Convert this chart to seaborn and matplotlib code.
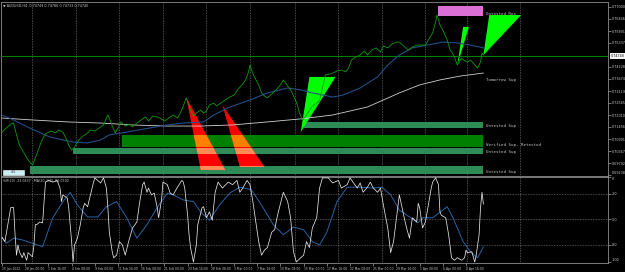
import matplotlib
matplotlib.use("Agg")
import matplotlib.pyplot as plt
from matplotlib.patches import Rectangle, Polygon
from matplotlib.transforms import blended_transform_factory
import pandas as pd
import seaborn as sns

# ---- price panel (AUDUSD H4), bar index vs price ----
PRICE_BARS = [0, 3, 6, 8, 10, 12, 14, 16, 18, 21, 23, 25, 27, 29, 31, 34, 37, 39, 42, 44,
              46, 48, 50, 53, 56, 59, 61, 64, 68, 70, 73, 75, 78, 80, 82, 85, 88, 90, 93, 96,
              99, 101, 104, 107, 110, 112, 115, 118, 121, 123, 125, 127, 130, 132, 134, 137, 139, 141, 143, 146,
              148, 152, 154, 157, 160, 162, 164, 166, 168, 170, 171, 172, 174, 177, 179, 181, 183, 186, 189, 192,
              194, 196, 199, 201, 203, 205, 207, 209, 211, 213, 215, 217, 219, 221, 223, 226, 228, 231, 234, 237,
              239, 241, 244, 247, 250, 252, 255, 258, 261, 263, 266, 269, 272, 274, 277, 280, 283, 286, 288, 292,
              294, 297, 299, 300, 302, 304, 307, 309, 311, 312, 314, 316, 317, 319, 321, 323, 325, 328, 330, 331, 332]
PRICE = [0.7122, 0.7141, 0.7159, 0.7164, 0.7109, 0.7062, 0.7039, 0.7016, 0.6993, 0.6970,
         0.7002, 0.7039, 0.7076, 0.7104, 0.7118, 0.7127, 0.7118, 0.7132, 0.7122, 0.7095,
         0.7062, 0.7039, 0.7053, 0.7086, 0.7104, 0.7118, 0.7132, 0.7127, 0.7146, 0.7155,
         0.7201, 0.7169, 0.7118, 0.7141, 0.7169, 0.7150, 0.7159, 0.7146, 0.7164, 0.7178,
         0.7192, 0.7173, 0.7196, 0.7192, 0.7183, 0.7173, 0.7187, 0.7201, 0.7187, 0.7210,
         0.7243, 0.7280, 0.7224, 0.7196, 0.7210, 0.7224, 0.7210, 0.7220, 0.7247, 0.7256,
         0.7243, 0.7261, 0.7270, 0.7284, 0.7293, 0.7312, 0.7330, 0.7344, 0.7363, 0.7400,
         0.7432, 0.7409, 0.7377, 0.7340, 0.7303, 0.7289, 0.7280, 0.7298, 0.7317, 0.7340,
         0.7363, 0.7344, 0.7317, 0.7289, 0.7261, 0.7215, 0.7178, 0.7192, 0.7210, 0.7233,
         0.7247, 0.7256, 0.7270, 0.7326, 0.7386, 0.7390, 0.7395, 0.7404, 0.7409, 0.7400,
         0.7418, 0.7455, 0.7469, 0.7478, 0.7497, 0.7478, 0.7501, 0.7511, 0.7492, 0.7520,
         0.7511, 0.7529, 0.7538, 0.7538, 0.7520, 0.7501, 0.7515, 0.7524, 0.7524, 0.7524,
         0.7548, 0.7580, 0.7631, 0.7663, 0.7617, 0.7594, 0.7548, 0.7501, 0.7483, 0.7469,
         0.7432, 0.7455, 0.7464, 0.7451, 0.7446, 0.7455, 0.7441, 0.7418, 0.7446, 0.7487, 0.7478]

MA_FAST_BARS = [0, 8, 19, 33, 49, 59, 68, 74, 86, 102, 114, 125, 139, 146, 157, 171,
                183, 197, 206, 214, 228, 235, 247, 259, 266, 274, 283, 293, 304, 314, 323, 332]
MA_FAST = [0.7201, 0.7178, 0.7141, 0.7099, 0.7076, 0.7072, 0.7086, 0.7109, 0.7122, 0.7141,
           0.7155, 0.7164, 0.7169, 0.7201, 0.7238, 0.7270, 0.7303, 0.7326, 0.7317, 0.7303,
           0.7284, 0.7293, 0.7326, 0.7377, 0.7432, 0.7478, 0.7511, 0.7524, 0.7538, 0.7534,
           0.7524, 0.7511]

MA_SLOW_BARS = [0, 21, 45, 68, 90, 114, 137, 159, 183, 206, 228, 252, 274, 288, 302, 316, 332]
MA_SLOW = [0.7187, 0.7178, 0.7169, 0.7164, 0.7155, 0.7150, 0.7150, 0.7155, 0.7169, 0.7183,
           0.7201, 0.7238, 0.7303, 0.7340, 0.7363, 0.7381, 0.7395]

CURRENT_PRICE = 0.7474
PRICE_TICKS = [0.77000, 0.76446, 0.75891, 0.75337, 0.74228, 0.73674, 0.73119,
               0.72565, 0.72010, 0.71456, 0.70901, 0.70347, 0.69792, 0.69238]

# supply / demand zones
ZONE_LABELS = ["Untested Res", "Untested Sup", "Verified Sup, Retested", "Untested Sup", "Untested Sup"]
ZONE_KIND = ["res", "sup", "verified", "sup", "sup"]
ZONE_START = [301, 208, 83, 49, 19]
ZONE_END = 332
ZONE_LOW = [0.76584, 0.71410, 0.70532, 0.70209, 0.69285]
ZONE_HIGH = [0.77046, 0.71687, 0.71086, 0.70486, 0.69654]
TOMORROW_SUP = 0.7363

# pattern triangles (bar, price) for each vertex
RED_TRI_BARS = [(127, 137, 154), (152, 164, 181)]
RED_TRI_PRICES = [(0.7284, 0.6947, 0.6947), (0.7247, 0.6961, 0.6961)]
GREEN_TRI_BARS = [(206, 212, 230), (314, 318, 322), (332, 336, 358)]
GREEN_TRI_PRICES = [(0.7122, 0.7377, 0.7377), (0.7432, 0.7608, 0.7608), (0.7478, 0.7663, 0.7663)]

# ---- Williams %R panel ----
WPR_BARS = [0, 2, 4, 6, 8, 9, 10, 11, 12, 14,
            15, 17, 18, 21, 22, 23, 24, 26, 28, 29,
            30, 32, 35, 38, 40, 41, 42, 45, 46, 47,
            48, 49, 50, 52, 54, 56, 57, 59, 61, 63,
            64, 66, 68, 70, 72, 73, 74, 76, 77, 79,
            81, 83, 85, 87, 88, 90, 93, 95, 97, 98,
            100, 101, 103, 105, 107, 108, 110, 111, 114, 116,
            118, 121, 124, 125, 126, 128, 129, 130, 132, 134,
            135, 138, 139, 141, 143, 145, 147, 149, 152, 156,
            159, 162, 164, 166, 169, 171, 173, 177, 179, 181,
            183, 186, 188, 190, 194, 197, 199, 201, 203, 206,
            208, 210, 212, 214, 217, 219, 221, 225, 228, 232,
            234, 238, 240, 242, 245, 247, 249, 252, 254, 256,
            259, 261, 263, 266, 268, 270, 272, 274, 277, 279,
            281, 283, 286, 287, 288, 290, 292, 294, 296, 297,
            299, 301, 302, 303, 306, 308, 310, 312, 314, 317,
            319, 320, 321, 324, 326, 327, 329, 330, 331, 332]
WPR = [-71, -76, -56, -36, -36, -68, -92, -80, -88, -95,
       -89, -98, -89, -94, -80, -56, -56, -53, -54, -29,
       -6, -4, -6, -4, -13, -29, -21, -25, -36, -56,
       -76, -100, -80, -72, -56, -36, -31, -35, -21, -7,
       -1, -4, -7, -1, -13, -36, -65, -88, -95, -92,
       -76, -80, -92, -78, -72, -60, -53, -29, -9, -6,
       -18, -13, -21, -19, -36, -48, -27, -6, -9, -19,
       -21, -12, -4, -6, -13, -45, -68, -83, -100, -80,
       -56, -36, -35, -48, -41, -51, -18, -6, -13, -6,
       -9, -4, -18, -13, -4, -9, -29, -76, -92, -86,
       -83, -65, -62, -45, -18, -29, -48, -88, -100, -95,
       -92, -76, -83, -60, -48, -13, -1, -1, -7, -4,
       -13, -9, -1, -6, -13, -7, -18, -12, -6, -13,
       -18, -13, -33, -60, -89, -76, -48, -21, -45, -60,
       -72, -48, -53, -31, -36, -60, -53, -33, -13, -6,
       -1, -9, -41, -45, -48, -68, -95, -98, -95, -98,
       -95, -86, -89, -88, -100, -92, -68, -36, -18, -32]

WPR_MA_BARS = [0, 3, 8, 14, 21, 28, 35, 42, 47, 52,
               59, 66, 72, 79, 86, 93, 100, 107, 114, 118,
               125, 132, 137, 143, 150, 157, 164, 172, 180, 187,
               194, 201, 208, 214, 219, 224, 231, 238, 247, 256,
               262, 268, 274, 281, 287, 290, 297, 307, 311, 318,
               323, 328, 332]
WPR_MA = [-71, -78, -72, -74, -78, -82, -48, -29, -18, -33,
          -47, -47, -35, -29, -48, -72, -56, -36, -19, -21,
          -27, -29, -41, -51, -33, -19, -12, -15, -36, -56,
          -68, -59, -62, -76, -80, -65, -29, -12, -12, -13,
          -12, -21, -39, -47, -54, -48, -48, -35, -48, -76,
          -88, -95, -82]
WPR_LEVELS = [-20, -50, -80]

TIME_TICKS = list(range(0, 321, 16))
TIME_LABELS = ["25 Jan 2022", "28 Jan 00:00", "1 Feb 16:00", "4 Feb 08:00", "9 Feb 00:00",
               "11 Feb 16:00", "16 Feb 08:00", "21 Feb 00:00", "23 Feb 16:00", "28 Feb 08:00",
               "3 Mar 00:00", "7 Mar 16:00", "10 Mar 08:00", "15 Mar 00:00", "17 Mar 16:00",
               "22 Mar 08:00", "25 Mar 00:00", "29 Mar 16:00", "1 Apr 08:00", "6 Apr 00:00",
               "8 Apr 16:00"]
GRID_BARS = [21, 51, 81, 111, 141, 171, 202, 232, 262, 292, 321, 357]

ZONE_COLORS = {"res": "#DA70D6", "sup": "#2E8B57", "verified": "#008000"}
# red triangle drawn over a zone shows the OR of both colours
MIX_COLORS = {"res": "#FF70D6", "sup": "#FF8B57", "verified": "#FF8000"}
TXT = "#c8c8c8"
SPINE = "#8c8c8c"

sns.set_theme(style="dark", rc={"axes.facecolor": "black", "figure.facecolor": "black",
                                "savefig.facecolor": "black"})
plt.rcParams["font.family"] = ["DejaVu Sans"]

W, H = 625, 272
fig = plt.figure(figsize=(W / 100, H / 100), dpi=100)
ax = fig.add_axes([1 / W, 1 - 176 / H, 607 / W, 174 / H])
ai = fig.add_axes([1 / W, 1 - 263 / H, 607 / W, 86 / H])

for a in (ax, ai):
    a.set_facecolor("black")
    a.set_xlim(-0.7, 417.9)
    for s in a.spines.values():
        s.set_color(SPINE)
        s.set_linewidth(0.6)
    for b in GRID_BARS:
        a.axvline(b, color="#a8a8a8", lw=0.45, ls=(0, (1, 1.6)), zorder=1)

ax.set_ylim(0.69192, 0.77231)
ai.set_ylim(-101.2, 0)

# zones
rects = []
for i, lab in enumerate(ZONE_LABELS):
    r = Rectangle((ZONE_START[i], ZONE_LOW[i]), ZONE_END - ZONE_START[i], ZONE_HIGH[i] - ZONE_LOW[i],
                  facecolor=ZONE_COLORS[ZONE_KIND[i]], edgecolor="none", zorder=2)
    ax.add_patch(r)
    rects.append(r)
    ax.text(ZONE_END + 2, ZONE_LOW[i], lab, fontsize=3.0, family="DejaVu Sans Mono",
            color=TXT, va="bottom", ha="left", zorder=6)
ax.text(ZONE_END + 2, TOMORROW_SUP, "Tomorrow Sup", fontsize=3.0, family="DejaVu Sans Mono",
        color=TXT, va="center", ha="left", zorder=6)

# triangles
for bars, prices in zip(RED_TRI_BARS, RED_TRI_PRICES):
    verts = list(zip(bars, prices))
    ax.add_patch(Polygon(verts, closed=True, facecolor="#FF0000", edgecolor="none", zorder=3))
    for i, r in enumerate(rects):
        p = Polygon(verts, closed=True, facecolor=MIX_COLORS[ZONE_KIND[i]], edgecolor="none", zorder=3.5)
        ax.add_patch(p)
        p.set_clip_path(r)
for bars, prices in zip(GREEN_TRI_BARS, GREEN_TRI_PRICES):
    ax.add_patch(Polygon(list(zip(bars, prices)), closed=True, facecolor="#00FF00",
                         edgecolor="none", zorder=3))

ax.axhline(CURRENT_PRICE, color="#008000", lw=0.8, zorder=4)

price_df = pd.DataFrame({"bar": PRICE_BARS, "price": PRICE})
fast_df = pd.DataFrame({"bar": MA_FAST_BARS, "price": MA_FAST})
slow_df = pd.DataFrame({"bar": MA_SLOW_BARS, "price": MA_SLOW})
sns.lineplot(data=slow_df, x="bar", y="price", ax=ax, color="#d0d0d0", lw=0.6, zorder=5)
sns.lineplot(data=fast_df, x="bar", y="price", ax=ax, color="#1f4f86", lw=0.8, zorder=5)
sns.lineplot(data=price_df, x="bar", y="price", ax=ax, color="#0c9a0c", lw=0.6, zorder=6)

ax.set_xlabel("")
ax.set_ylabel("")
ax.set_xticks([])
ax.yaxis.tick_right()
ax.set_yticks(PRICE_TICKS)
ax.set_yticklabels([f"{v:.5f}" for v in PRICE_TICKS])
ax.tick_params(axis="y", colors=TXT, labelsize=2.4, length=2, width=0.4, pad=1, right=True)
ax.get_yticklabels()[-1].set_va("bottom")

tr = blended_transform_factory(ax.transAxes, ax.transData)
ax.text(1.004, CURRENT_PRICE, "0.74740", transform=tr, fontsize=2.4, color="black",
        va="center", ha="left", clip_on=False, zorder=8,
        bbox=dict(facecolor="white", edgecolor="none", pad=0.5))

ax.text(0.004, 0.988, "\u25bc AUDUSD,H4  0.74749 0.74786 0.74733 0.74740", transform=ax.transAxes,
        fontsize=2.4, color=TXT, va="top", ha="left", zorder=8)
# small scale button in the lower-left corner
ax.add_patch(Rectangle((1, 0.69250), 14, 0.00215, facecolor="#c8eef6", edgecolor="white",
                       lw=0.4, zorder=7))
ax.text(8, 0.69357, "4.5", fontsize=2.4, color="#303030", va="center", ha="center", zorder=8)

# Williams %R panel
for lv in WPR_LEVELS:
    ai.axhline(lv, color="#a8a8a8", lw=0.45, ls=(0, (1, 1.6)), zorder=1)
wpr_df = pd.DataFrame({"bar": WPR_BARS, "wpr": WPR})
wma_df = pd.DataFrame({"bar": WPR_MA_BARS, "wpr": WPR_MA})
sns.lineplot(data=wma_df, x="bar", y="wpr", ax=ai, color="#2a63a3", lw=0.7, zorder=4)
sns.lineplot(data=wpr_df, x="bar", y="wpr", ax=ai, color="#e6e6e6", lw=0.55, zorder=5)
ai.set_xlabel("")
ai.set_ylabel("")
ai.yaxis.tick_right()
ai.set_yticks([0] + WPR_LEVELS + [-100])
ai.set_yticklabels(["0", "-20", "-50", "-80", "-100"])
ai.tick_params(axis="y", colors=TXT, labelsize=2.4, length=2, width=0.4, pad=1, right=True)
ai.get_yticklabels()[0].set_va("top")
ai.get_yticklabels()[-1].set_va("bottom")
ai.set_xticks(TIME_TICKS)
ai.set_xticklabels(TIME_LABELS)
for lab in ai.get_xticklabels():
    lab.set_ha("left")
ai.tick_params(axis="x", colors=TXT, labelsize=2.2, length=2, width=0.4, pad=1, bottom=True)
ai.text(0.004, 0.975, "%R(20) -33.0437   MA(20, %R) -80.0592", transform=ai.transAxes,
        fontsize=2.3, color=TXT, va="top", ha="left", zorder=8)

fig.savefig("out.png", dpi=100, facecolor="black")
